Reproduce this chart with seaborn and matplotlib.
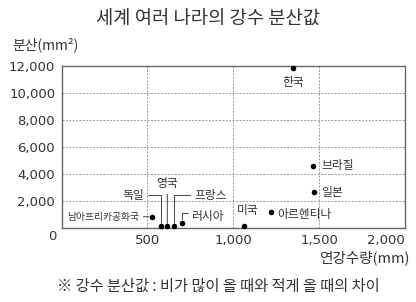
import matplotlib
matplotlib.use("Agg")
import matplotlib.pyplot as plt
import seaborn as sns
import pandas as pd

# data
countries = ["한국", "브라질", "일본", "아르헨티나", "미국", "러시아",
             "프랑스", "영국", "독일", "남아프리카공화국"]
rainfall = [1348, 1463, 1472, 1220, 1063, 700, 655, 616, 578, 525]
variance = [11830, 4592, 2616, 1129, 110, 312, 100, 100, 100, 802]
x_ticks = [500, 1000, 1500, 2000]
y_ticks = [2000, 4000, 6000, 8000, 10000, 12000]

df = pd.DataFrame({"country": countries, "rain": rainfall, "var": variance})

sns.set_style("white")
plt.rcParams["font.family"] = ["Noto Sans CJK KR", "DejaVu Sans"]
txt = "#333333"
num_font = "DejaVu Sans"

fig = plt.figure(figsize=(4.16, 3.02), dpi=100)
ax = fig.add_axes([61.5 / 416, 1 - 227.5 / 302, (405 - 61.5) / 416, (227.5 - 66) / 302])

sns.scatterplot(data=df, x="rain", y="var", color="black", s=16, edgecolor="black",
                linewidth=0, ax=ax, zorder=3, clip_on=False)

ax.set_xlim(0, 2000)
ax.set_ylim(0, 12000)
ax.set_xticks(x_ticks)
ax.set_xticklabels([f"{v:,}" for v in x_ticks], family=num_font, fontsize=9.5, color=txt)
ax.set_yticks(y_ticks)
ax.set_yticklabels([f"{v:,}" for v in y_ticks], family=num_font, fontsize=9.5, color=txt)
ax.get_xticklabels()[-1].set_ha("right")
ax.tick_params(length=0)
ax.tick_params(axis="y", pad=4.5)
ax.tick_params(axis="x", pad=5)
ax.set_xlabel("")
ax.set_ylabel("")
for s in ax.spines.values():
    s.set_color("#666666")
    s.set_linewidth(1.0)

for v in x_ticks[:-1]:
    ax.axvline(v, color="#999999", linestyle=(0, (2, 1.5)), linewidth=0.7, zorder=1)
for v in y_ticks[:-1]:
    ax.axhline(v, color="#999999", linestyle=(0, (2, 1.5)), linewidth=0.7, zorder=1)

# origin label
ax.annotate("0", xy=(0, 0), xytext=(-9.5, -9), textcoords="offset pixels",
            ha="center", va="center", fontsize=9.5, color=txt, family=num_font)

# label layout: offset in pixels, alignment, leader style
layout = {
    "한국": ((0, -14), "center", None),
    "브라질": ((9, 0), "left", None),
    "일본": ((7, 0), "left", None),
    "아르헨티나": ((6, -2), "left", None),
    "미국": ((4, 16), "center", None),
    "러시아": ((26, 7), "center", None),
    "프랑스": ((37, 31), "center", "angle,angleA=0,angleB=90,rad=0"),
    "영국": ((0, 43), "center", "arc3"),
    "독일": ((-17, 31), "right", "angle,angleA=0,angleB=90,rad=0"),
    "남아프리카공화국": ((-13, 0), "right", "arc3"),
}
for name, rx, ry in zip(countries, rainfall, variance):
    off, ha, conn = layout[name]
    fs = 7 if name == "남아프리카공화국" else 8.5
    props = None
    if conn:
        props = dict(arrowstyle="-", connectionstyle=conn, color="#444444",
                     linewidth=0.7, shrinkA=1, shrinkB=2)
    ax.annotate(name, xy=(rx, ry), xytext=off, textcoords="offset pixels",
                ha=ha, va="center", fontsize=fs, color=txt, arrowprops=props,
                annotation_clip=False)

# small hook next to 러시아
ri = countries.index("러시아")
ax.annotate("", xy=(rainfall[ri], variance[ri]), xytext=(6, 10), textcoords="offset pixels",
            arrowprops=dict(arrowstyle="-", connectionstyle="angle,angleA=0,angleB=90,rad=0",
                            color="#444444", linewidth=0.7, shrinkA=0, shrinkB=3))

fig.text(0.5, 1 - 19 / 302, "세계 여러 나라의 강수 분산값", ha="center", va="center",
         fontsize=13.5, color=txt)
fig.text(12 / 416, 1 - 45 / 302, "분산(mm²)", ha="left", va="center", fontsize=10, color=txt)
fig.text(410 / 416, 1 - 258 / 302, "연강수량(mm)", ha="right", va="center", fontsize=10.5, color=txt)
fig.text(218 / 416, 1 - 286 / 302, "※ 강수 분산값 : 비가 많이 올 때와 적게 올 때의 차이",
         ha="center", va="center", fontsize=11, color=txt)

fig.savefig("out.png", dpi=100)
